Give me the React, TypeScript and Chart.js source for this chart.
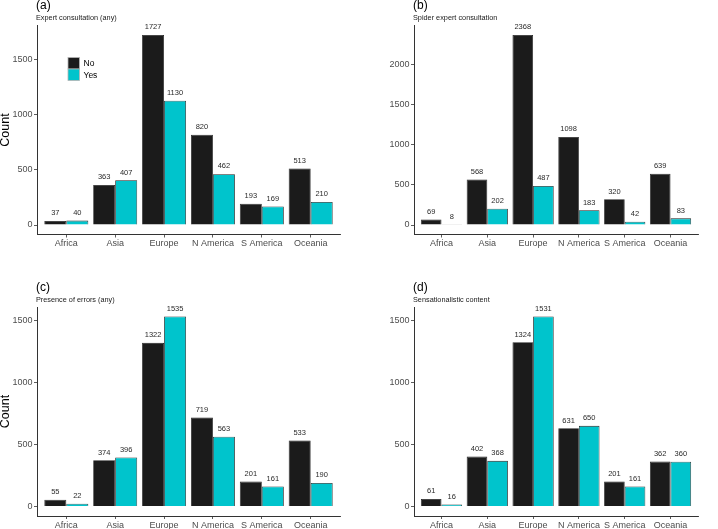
import React, { useEffect, useRef } from "react";
import { Chart, registerables } from "chart.js";

Chart.register(...registerables);

const categories = ["Africa", "Asia", "Europe", "N America", "S America", "Oceania"];
const seriesLabels = ["No", "Yes"];

const expertNo = [37, 363, 1727, 820, 193, 513];
const expertYes = [40, 407, 1130, 462, 169, 210];
const spiderNo = [69, 568, 2368, 1098, 320, 639];
const spiderYes = [8, 202, 487, 183, 42, 83];
const errorsNo = [55, 374, 1322, 719, 201, 533];
const errorsYes = [22, 396, 1535, 563, 161, 190];
const sensNo = [61, 402, 1324, 631, 201, 362];
const sensYes = [16, 368, 1531, 650, 161, 360];

const ticksA = [0, 500, 1000, 1500];
const ticksB = [0, 500, 1000, 1500, 2000];
const ticksC = [0, 500, 1000, 1500];
const ticksD = [0, 500, 1000, 1500];

const COLOR_NO = "#1b1b1b";
const COLOR_YES = "#00c4cc";
const FONT = "'Liberation Sans', Arial, Helvetica, sans-serif";

type PanelProps = {
  no: number[];
  yes: number[];
  ticks: number[];
  tag: string;
  subtitle: string;
  showCount: boolean;
  showLegend: boolean;
  width: number;
  height: number;
  area: { left: number; right: number; top: number; bottom: number };
  style: React.CSSProperties;
};

function Panel(props: PanelProps) {
  const ref = useRef<HTMLCanvasElement | null>(null);
  useEffect(() => {
    const canvas = ref.current;
    if (!canvas) return;
    const { no, yes, ticks, tag, subtitle, showCount, showLegend, width, height, area } = props;
    const maxVal = Math.max(...no, ...yes);
    const textPlugin = {
      id: "panelText",
      afterDraw(chart: any) {
        const ctx = chart.ctx as CanvasRenderingContext2D;
        const ca = chart.chartArea;
        ctx.save();
        // data labels
        ctx.fillStyle = "#2a2a2a";
        ctx.font = `7.5px ${FONT}`;
        ctx.textAlign = "center";
        ctx.textBaseline = "bottom";
        chart.data.datasets.forEach((ds: any, di: number) => {
          const meta = chart.getDatasetMeta(di);
          meta.data.forEach((el: any, i: number) => {
            const v = ds.data[i].y;
            ctx.fillText(String(v), el.x, el.y - 4);
          });
        });
        // tag and subtitle
        ctx.textAlign = "left";
        ctx.textBaseline = "alphabetic";
        ctx.fillStyle = "#000";
        ctx.font = `12px ${FONT}`;
        ctx.fillText(tag, ca.left - 1, ca.top - 16.5);
        ctx.fillStyle = "#1a1a1a";
        ctx.font = `7.3px ${FONT}`;
        ctx.fillText(subtitle, ca.left - 1, ca.top - 5.5);
        // y title
        if (showCount) {
          ctx.save();
          ctx.translate(5.5, (ca.top + ca.bottom) / 2);
          ctx.rotate(-Math.PI / 2);
          ctx.textAlign = "center";
          ctx.textBaseline = "middle";
          ctx.fillStyle = "#000";
          ctx.font = `12.5px ${FONT}`;
          ctx.fillText("Count", 0, 0);
          ctx.restore();
        }
        // legend
        if (showLegend) {
          const lx = 68;
          const ly = 57.5;
          const s = 11.5;
          chart.data.datasets.forEach((ds: any, di: number) => {
            const y = ly + di * s;
            ctx.fillStyle = ds.backgroundColor;
            ctx.fillRect(lx, y, s, s);
            ctx.strokeStyle = "#b5b5b5";
            ctx.lineWidth = 0.8;
            ctx.strokeRect(lx, y, s, s);
            ctx.fillStyle = "#000";
            ctx.font = `8.5px ${FONT}`;
            ctx.textBaseline = "middle";
            ctx.fillText(ds.label, lx + s + 4, y + s / 2 + 0.5);
          });
        }
        ctx.restore();
      },
    };
    const chart = new Chart(canvas, {
      type: "bar",
      data: {
        datasets: [
          {
            label: seriesLabels[0],
            data: no.map((v, i) => ({ x: i, y: v })),
            backgroundColor: COLOR_NO,
            borderColor: "#202020",
            borderWidth: 0.8,
            categoryPercentage: 0.9,
            barPercentage: 1,
          },
          {
            label: seriesLabels[1],
            data: yes.map((v, i) => ({ x: i, y: v })),
            backgroundColor: COLOR_YES,
            borderColor: "#202020",
            borderWidth: 0.8,
            categoryPercentage: 0.9,
            barPercentage: 1,
          },
        ],
      },
      options: {
        animation: false,
        responsive: false,
        maintainAspectRatio: false,
        layout: {
          padding: { left: 0, right: width - area.right, top: area.top, bottom: 0 },
        },
        plugins: {
          legend: { display: false },
          tooltip: { enabled: false },
          title: { display: false },
        },
        scales: {
          x: {
            type: "linear",
            min: -0.6,
            max: categories.length - 1 + 0.6,
            offset: false,
            afterBuildTicks(scale: any) {
              scale.ticks = categories.map((_, i) => ({ value: i }));
            },
            afterFit(scale: any) {
              scale.height = height - area.bottom;
            },
            ticks: {
              autoSkip: false,
              maxRotation: 0,
              padding: 1,
              color: "#4d4d4d",
              font: { family: FONT, size: 9 },
              callback: (v: any) => categories[v as number] ?? "",
            },
            grid: {
              display: true,
              offset: false,
              drawOnChartArea: false,
              drawTicks: true,
              tickLength: 3,
              color: "#333",
              lineWidth: 0.8,
            },
            border: { display: true, color: "#333", width: 1 },
          },
          y: {
            type: "linear",
            min: -0.05 * maxVal,
            max: 1.05 * maxVal,
            afterBuildTicks(scale: any) {
              scale.ticks = ticks.map((v) => ({ value: v }));
            },
            afterFit(scale: any) {
              scale.width = area.left;
            },
            ticks: {
              padding: 1.5,
              color: "#4d4d4d",
              font: { family: FONT, size: 9 },
              callback: (v: any) => String(v),
            },
            grid: {
              display: true,
              offset: false,
              drawOnChartArea: false,
              drawTicks: true,
              tickLength: 3,
              color: "#333",
              lineWidth: 0.8,
            },
            border: { display: true, color: "#333", width: 1 },
          },
        },
      },
      plugins: [textPlugin],
    } as any);
    return () => chart.destroy();
  }, []);
  return (
    <canvas
      ref={ref}
      width={props.width}
      height={props.height}
      style={{ position: "absolute", width: props.width, height: props.height, ...props.style }}
    />
  );
}

export default function App() {
  return (
    <div
      style={{
        position: "fixed",
        left: 0,
        top: 0,
        width: 718,
        height: 529,
        background: "#fff",
        overflow: "hidden",
      }}
    >
      <Panel
        no={expertNo}
        yes={expertYes}
        ticks={ticksA}
        tag="(a)"
        subtitle="Expert consultation (any)"
        showCount
        showLegend
        width={359}
        height={264}
        area={{ left: 37, right: 340, top: 25.5, bottom: 234.5 }}
        style={{ left: 0, top: 0 }}
      />
      <Panel
        no={spiderNo}
        yes={spiderYes}
        ticks={ticksB}
        tag="(b)"
        subtitle="Spider expert consultation"
        showCount={false}
        showLegend={false}
        width={359}
        height={264}
        area={{ left: 55, right: 339, top: 25.5, bottom: 234.5 }}
        style={{ left: 359, top: 0 }}
      />
      <Panel
        no={errorsNo}
        yes={errorsYes}
        ticks={ticksC}
        tag="(c)"
        subtitle="Presence of errors (any)"
        showCount
        showLegend={false}
        width={359}
        height={265}
        area={{ left: 37, right: 340, top: 43, bottom: 252 }}
        style={{ left: 0, top: 264 }}
      />
      <Panel
        no={sensNo}
        yes={sensYes}
        ticks={ticksD}
        tag="(d)"
        subtitle="Sensationalistic content"
        showCount={false}
        showLegend={false}
        width={359}
        height={265}
        area={{ left: 55, right: 339, top: 43, bottom: 252 }}
        style={{ left: 359, top: 264 }}
      />
    </div>
  );
}
